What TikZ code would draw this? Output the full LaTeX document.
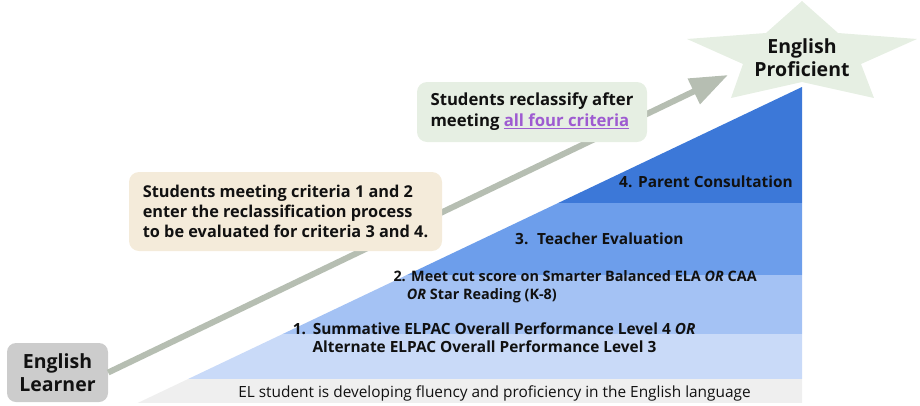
\documentclass[tikz,border=0pt]{standalone}
\usepackage{fontspec}
\setmainfont{Open Sans}
\usetikzlibrary{arrows.meta}
\definecolor{bandD}{HTML}{3C78D8}
\definecolor{bandC}{HTML}{6D9EEB}
\definecolor{bandB}{HTML}{A4C2F4}
\definecolor{bandA}{HTML}{C9DAF8}
\definecolor{bandZ}{HTML}{EFEFEF}
\definecolor{elgray}{HTML}{CCCCCC}
\definecolor{beige}{HTML}{F4EBDA}
\definecolor{palegreen}{HTML}{E6EFE3}
\definecolor{arrowgray}{HTML}{B6BEB2}
\definecolor{linkpurple}{HTML}{9E5BD1}
\definecolor{ink}{HTML}{111111}
\tikzset{
  notebox/.style={rounded corners=10pt, inner sep=0pt, align=left, text=ink,
    font=\fontsize{16.3}{20.2}\selectfont\bfseries},
  bigbox/.style={rounded corners=9pt, inner sep=0pt, align=center, text=ink,
    font=\fontsize{19.5}{23.5}\selectfont\bfseries},
  bandtext/.style={anchor=base west, inner sep=0pt, align=left, text=ink,
    font=\fontsize{15.4}{17.8}\selectfont\bfseries},
  basetext/.style={anchor=base, inner sep=0pt, text=ink,
    font=\fontsize{15.4}{18}\selectfont},
  arrowline/.style={draw=arrowgray, line width=6pt,
    -{Triangle[length=38pt,width=27pt]}},
}
\begin{document}
\begin{tikzpicture}[x=1pt,y=-1pt]
\useasboundingbox (0,0) rectangle (920,405);
% staircase triangle
\begin{scope}
  \clip (802,87) -- (802,403) -- (137.6,403) -- cycle;
  \fill[bandD] (100,80) rectangle (810,202.5);
  \fill[bandC] (100,202.5) rectangle (810,275);
  \fill[bandB] (100,275) rectangle (810,334);
  \fill[bandA] (100,334) rectangle (810,379);
  \fill[bandZ] (100,379) rectangle (810,403);
\end{scope}
% star
\fill[palegreen] (802,1) -- (838,33) -- (917,39) -- (861,64) -- (874,98)
  -- (802,82) -- (731,98) -- (743,64) -- (687,39) -- (766,33) -- cycle;
\node[bigbox] (EP) at (802,57.5) {English\\Proficient};
% english learner
\node[bigbox, fill=elgray, minimum width=101pt, minimum height=59pt] (EL)
  at (57.5,372.5) {English\\Learner};
\coordinate (tip) at (728,75);
\draw[arrowline] (EL.east) -- (tip);
% note boxes
\node[notebox, fill=beige, minimum width=313pt, minimum height=79pt] (NB)
  at (285.5,211.5) {Students meeting criteria 1 and 2\\enter the reclassification process\\to be evaluated for criteria 3 and 4.};
\node[notebox, fill=palegreen, minimum width=230pt, minimum height=60pt,
  font=\fontsize{16.7}{21}\selectfont\bfseries] (NG)
  at (532,112) {Students reclassify after\\meeting \textcolor{linkpurple}{\underline{all four criteria}}};
% band labels
\node[bandtext] (C4) at (619,187.5) {\makebox[19pt][l]{4.}Parent Consultation};
\node[bandtext] (C3) at (515,244.5) {\makebox[22pt][l]{3.}Teacher Evaluation};
\node[bandtext, font=\fontsize{14.4}{17.4}\selectfont\bfseries] (C2) at (393.3,299.3)
  {\makebox[17.7pt][l]{2.}Meet cut score on Smarter Balanced ELA \textit{OR} CAA\\\hspace*{13.4pt}\textit{OR} Star Reading (K-8)};
\node[bandtext] (C1) at (292.7,352.7) {\makebox[20pt][l]{1.}Summative ELPAC Overall Performance Level 4 \textit{OR}\\\hspace*{19.6pt}Alternate ELPAC Overall Performance Level 3};
\node[basetext] (C0) at (494.5,397.3) {EL student is developing fluency and proficiency in the English language};
\end{tikzpicture}
\end{document}
